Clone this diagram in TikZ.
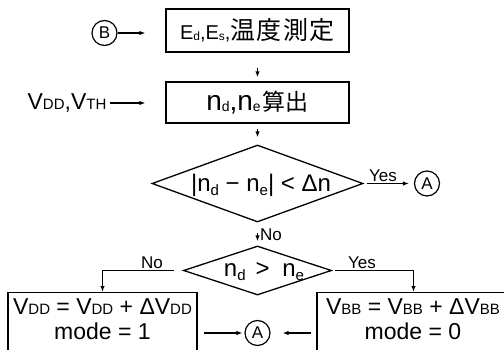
\documentclass[tikz,border=0pt]{standalone}
\usepackage{fontspec}
\setmainfont{Liberation Sans}
\newfontfamily\cjk{Noto Sans CJK JP}
\usetikzlibrary{shapes.geometric,arrows.meta}
\newcommand{\fs}[1]{\fontsize{#1}{#1}\selectfont}
\newcommand{\lsub}[3]{\raisebox{#1}{\fs{#2}#3}}
\begin{document}
\begin{tikzpicture}[x=1pt,y=-1pt,
  box/.style={draw, line width=1.3pt, inner sep=0pt},
  arr/.style={-{Latex[length=6pt,width=4.5pt]}, line width=1.2pt},
  circ/.style={draw, circle, minimum size=25pt, inner sep=0pt, line width=1.2pt, font=\fs{17}},
  dia/.style={draw, diamond, inner sep=0pt, line width=1.3pt},
  lbl/.style={font=\fs{17}, inner sep=1pt}]
\clip (0,0) rectangle (504,350);
% top
\node[circ] (B) at (104.5,33) {B};
\node[box, minimum width=183pt, minimum height=43pt] (s1) at (257.5,30.5)
  {\fs{20}E\lsub{-1pt}{12}{d},E\lsub{-1pt}{12}{s},{\cjk\fs{25}温\kern1.5pt 度\kern1.5pt 測\kern1.5pt 定}};
\node[box, minimum width=183pt, minimum height=41pt] (s2) at (257.5,102.5)
  {\fs{28}n\lsub{-1pt}{14}{d},n\lsub{-1pt}{14}{e}\kern2pt{\cjk\fs{23}算出}};
\node[font=\fs{23}, inner sep=0pt] (vin) at (67,103) {V\lsub{0pt}{15}{DD},V\lsub{0pt}{15}{TH}};
\draw[arr, shorten >=20pt] (B) -- (B -| s1.west);
\draw[arr, shorten <=15pt, shorten >=4pt] (s1) -- (s2);
\draw[arr, shorten <=3pt, shorten >=20pt] (vin.east) -- (vin.east -| s2.west);
% diamond 1
\node[dia, minimum width=211pt, minimum height=77pt] (d1) at (257.5,183.5) {};
\node[font=\fs{24}, inner sep=0pt] (d1t) at (261,185) {|n\lsub{-4pt}{15}{d} − n\lsub{-4pt}{15}{e}| < Δn};
\draw[arr, shorten <=5pt, shorten >=7pt] (s2) -- (d1);
\node[circ] (A1) at (427,183.5) {A};
\draw[arr, shorten <=3pt, shorten >=5pt] (d1.east) -- (A1);
\node[lbl, anchor=south] (yes1) at (383,183) {Yes};
% diamond 2
\node[dia, minimum width=148pt, minimum height=49pt] (d2) at (257.5,270.5) {};
\node[font=\fs{24}, inner sep=0pt] (d2t) at (264,272) {n\lsub{-4pt}{15}{d}\kern10pt > \kern6pt n\lsub{-4pt}{15}{e}};
\draw[arr, shorten <=10pt, shorten >=4pt] (d1) -- (d2);
\node[lbl, anchor=west] (no1) at (259,235) {No};
% bottom boxes
\node[box, minimum width=189pt, minimum height=80pt, anchor=north] (L) at (102.5,292) {};
\node[align=center, font=\fontsize{23}{25}\selectfont, inner sep=0pt] (Lt) at (102.5,319)
  {V\lsub{0pt}{15}{DD} = V\lsub{0pt}{15}{DD} + ΔV\lsub{0pt}{15}{DD}\\mode = 1};
\node[box, minimum width=193pt, minimum height=80pt, anchor=north] (R) at (413.5,292) {};
\node[align=center, font=\fontsize{23}{25}\selectfont, inner sep=0pt] (Rt) at (413,319)
  {V\lsub{0pt}{15}{BB} = V\lsub{0pt}{15}{BB} + ΔV\lsub{0pt}{15}{BB}\\mode = 0};
\draw[arr, shorten <=9pt] (d2.west) -| (L.north);
\draw[arr, shorten <=3pt] (d2.east) -| (R.north);
\node[lbl, anchor=south] (no2) at (152,270) {No};
\node[lbl, anchor=south] (yes2) at (362,270) {Yes};
\node[circ] (A2) at (257.5,333) {A};
\draw[arr, shorten <=6pt, shorten >=2pt] (L.east |- A2) -- (A2);
\draw[arr, shorten <=5pt, shorten >=12pt] (R.west |- A2) -- (A2);
\end{tikzpicture}
\end{document}
